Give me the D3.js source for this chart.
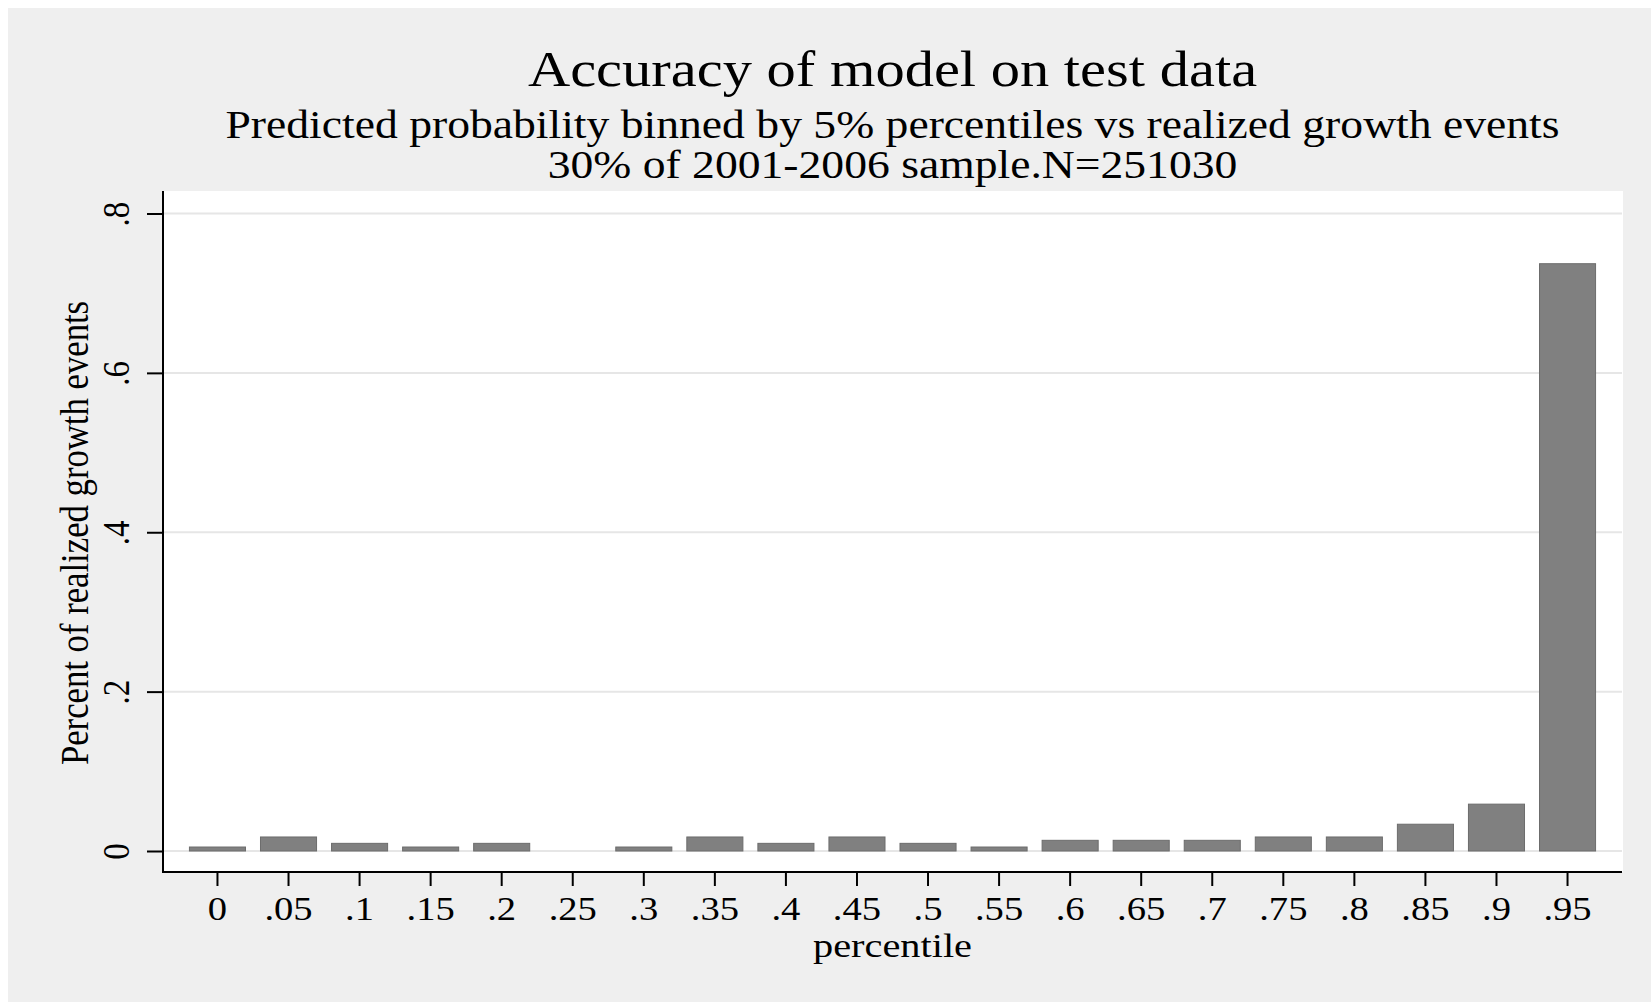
<html>
<head>
<script src="https://cdn.jsdelivr.net/npm/d3@7"></script>
<style>
  body { margin: 0; background: #fff; }
  text { font-family: 'Liberation Serif', serif; fill: #000; }
</style>
</head>
<body>
<script>

var width = 1651;
var height = 1002;

// data
var categories = ['0', '.05', '.1', '.15', '.2', '.25', '.3', '.35', '.4', '.45',
  '.5', '.55', '.6', '.65', '.7', '.75', '.8', '.85', '.9', '.95'];
var shares = [0.005, 0.0176, 0.0096, 0.005, 0.0096, 0, 0.005, 0.0176, 0.0096, 0.0176,
  0.0096, 0.005, 0.0134, 0.0134, 0.0134, 0.0176, 0.0176, 0.0336, 0.0588, 0.737];
var yTicks = [0, 0.2, 0.4, 0.6, 0.8];
var yTickLabels = ['0', '.2', '.4', '.6', '.8'];

var titleText = 'Accuracy of model on test data';
var subLines = ['Predicted probability binned by 5% percentiles vs realized growth events',
  '30% of 2001-2006 sample.N=251030'];
var xTitle = 'percentile';
var yTitle = 'Percent of realized growth events';

// the original graph is stretched sideways a bit
var sx = 1.17;
var serif = "'Liberation Serif', serif";

var plot = {left: 163, right: 1622, top: 191, bottom: 872};

var svg = d3.select('body').append('svg')
  .attr('width', width)
  .attr('height', height);

svg.append('rect')
  .attr('x', 8).attr('y', 8)
  .attr('width', width - 8).attr('height', height - 8)
  .style('fill', '#efefef');

svg.append('rect')
  .attr('x', plot.left).attr('y', plot.top)
  .attr('width', plot.right - plot.left + 1).attr('height', plot.bottom - plot.top)
  .style('fill', '#fff');

var x = d3.scaleBand()
  .domain(categories)
  .range([plot.left, plot.right])
  .paddingInner(0.197)
  .paddingOuter(0.365);

var y = d3.scaleLinear()
  .domain([0, 0.8])
  .range([851, 213.5]);

// gridlines
svg.append('g').selectAll('line')
  .data(yTicks)
  .enter().append('line')
  .attr('x1', plot.left).attr('x2', plot.right)
  .attr('y1', function(d){ return y(d); })
  .attr('y2', function(d){ return y(d); })
  .style('stroke', '#e6e6e6')
  .style('stroke-width', 2);

// bars
svg.append('g').selectAll('rect')
  .data(categories.map(function(c, i){ return {cat: c, v: shares[i]}; })
    .filter(function(d){ return d.v > 0; }))
  .enter().append('rect')
  .attr('x', function(d){ return x(d.cat) + 0.5; })
  .attr('width', x.bandwidth() - 1)
  .attr('y', function(d){ return y(d.v); })
  .attr('height', function(d){ return y(0) - y(d.v); })
  .style('fill', '#808080')
  .style('stroke', '#6c6c6c')
  .style('stroke-width', 1);

// x axis
var xAxis = svg.append('g')
  .attr('transform', 'translate(0,' + plot.bottom + ')')
  .call(d3.axisBottom(x).tickSize(14).tickSizeOuter(0));
xAxis.select('.domain').remove();
xAxis.selectAll('line').style('stroke', '#000').style('stroke-width', 2);
xAxis.selectAll('text')
  .attr('y', 0).attr('dy', 0)
  .attr('transform', 'translate(0,48) scale(' + sx + ',1)')
  .style('font-size', '33px')
  .style('font-family', serif);

// y axis
var yAxis = svg.append('g')
  .attr('transform', 'translate(' + plot.left + ',0)')
  .call(d3.axisLeft(y).tickValues(yTicks).tickSize(16)
    .tickFormat(function(d, i){ return yTickLabels[i]; }));
yAxis.select('.domain').remove();
yAxis.selectAll('line').style('stroke', '#000').style('stroke-width', 2);
yAxis.selectAll('text')
  .attr('x', 0).attr('dy', 0)
  .attr('text-anchor', 'middle')
  .attr('transform', 'translate(-34,0) scale(' + sx + ',1) rotate(-90)')
  .style('font-size', '33px')
  .style('font-family', serif);

// axis lines
svg.append('line')
  .attr('x1', plot.left).attr('x2', plot.left)
  .attr('y1', plot.top).attr('y2', plot.bottom + 1)
  .style('stroke', '#000').style('stroke-width', 2);
svg.append('line')
  .attr('x1', plot.left).attr('x2', plot.right)
  .attr('y1', plot.bottom).attr('y2', plot.bottom)
  .style('stroke', '#000').style('stroke-width', 2);

var cx = (plot.left + plot.right) / 2;

function label (txt, px, py, size, rot, stretch) {
  svg.append('text')
    .attr('text-anchor', 'middle')
    .attr('transform', 'translate(' + px + ',' + py + ') scale(' + (stretch || sx) + ',1)' + (rot ? ' rotate(-90)' : ''))
    .style('font-size', size + 'px')
    .style('font-family', serif)
    .text(txt);
}

label(titleText, cx, 86, 50);
label(subLines[0], cx, 137.5, 39);
label(subLines[1], cx, 177.5, 39);
label(xTitle, cx, 957, 34.5);
label(yTitle, 88, 533, 34.7, true);

</script>
</body>
</html>
